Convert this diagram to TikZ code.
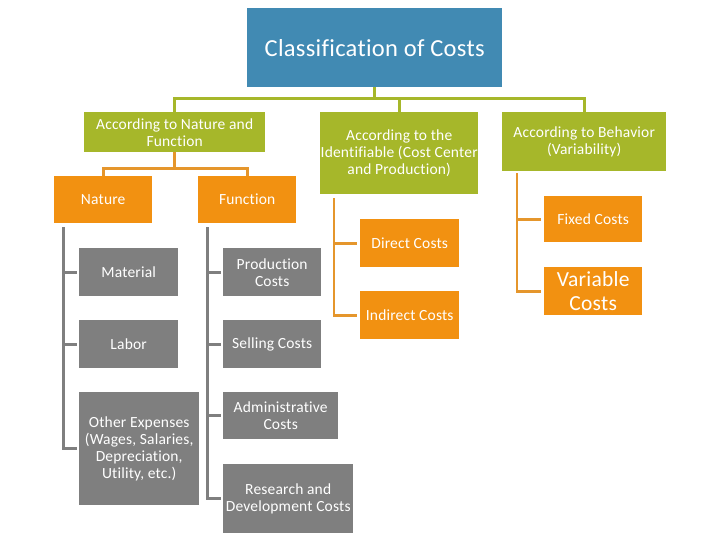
\documentclass[tikz,border=0pt]{standalone}
\usepackage{fontspec}
\setmainfont{Carlito}[Ligatures=NoCommon,LetterSpace=1.2]
\definecolor{tblue}{HTML}{418AB3}
\definecolor{tgreen}{HTML}{A6B72A}
\definecolor{torange}{HTML}{F29111}
\definecolor{tline}{HTML}{E5962C}
\definecolor{tgray}{HTML}{7F7F7F}
\tikzset{
  box/.style={anchor=north west, inner sep=0pt, align=center, text=white,
    font=\fontsize{15.5bp}{17bp}\selectfont},
  bluebox/.style={box, fill=tblue, font=\fontsize{24.5bp}{28bp}\selectfont},
  greenbox/.style={box, fill=tgreen},
  orangebox/.style={box, fill=torange},
  graybox/.style={box, fill=tgray},
  gline/.style={draw=tgreen, line width=3bp},
  oline/.style={draw=tline, line width=2.8bp},
  kline/.style={draw=tgray, line width=3bp},
}
\begin{document}
\begin{tikzpicture}[x=1bp,y=-1bp]
\useasboundingbox (0,0) rectangle (720,540);
% top
\node[bluebox, minimum width=255bp, minimum height=79bp] (title) at (247,8) {Classification of Costs};
\node[greenbox, minimum width=181bp, minimum height=40bp] (nf) at (84,112) {According to Nature and\\Function};
\node[greenbox, minimum width=158bp, minimum height=82bp] (ident) at (320,112) {According to the\\Identifiable (Cost Center\\and Production)};
\node[greenbox, minimum width=164bp, minimum height=59bp] (behav) at (502,112) {According to Behavior\\(Variability)};
% orange
\node[orangebox, minimum width=98bp, minimum height=47bp] (nature) at (54,176) {Nature};
\node[orangebox, minimum width=98bp, minimum height=47bp] (function) at (198,176) {Function};
\node[orangebox, minimum width=99bp, minimum height=48bp] (direct) at (360,219) {Direct Costs};
\node[orangebox, minimum width=99bp, minimum height=48bp] (indirect) at (360,291) {Indirect Costs};
\node[orangebox, minimum width=98bp, minimum height=46bp] (fixed) at (544,196) {Fixed Costs};
\node[orangebox, minimum width=98bp, minimum height=48bp, font=\fontsize{21.5bp}{23.5bp}\selectfont] (variable) at (544,267) {Variable\\Costs};
% gray
\node[graybox, minimum width=99bp, minimum height=48bp] (material) at (79,248) {Material};
\node[graybox, minimum width=99bp, minimum height=48bp] (labor) at (79,320) {Labor};
\node[graybox, minimum width=120bp, minimum height=113bp] (other) at (79,392) {Other Expenses\\(Wages, Salaries,\\Depreciation,\\Utility, etc.)};
\node[graybox, minimum width=98bp, minimum height=48bp] (prod) at (223,248) {Production\\Costs};
\node[graybox, minimum width=98bp, minimum height=48bp] (sell) at (223,320) {Selling Costs};
\node[graybox, minimum width=115bp, minimum height=47bp] (admin) at (223,392) {Administrative\\Costs};
\node[graybox, minimum width=130bp, minimum height=69bp] (rd) at (223,464) {Research and\\Development Costs};
% green connectors
\draw[gline] (title.south) -- ++(0,11) -| (nf.north);
\draw[gline] (title.south) -- ++(0,11) -| (ident.north);
\draw[gline] (title.south) -- ++(0,11) -| (behav.north);
% orange connectors
\draw[oline] (nf.south) -- ++(0,16) -| (nature.north);
\draw[oline] (nf.south) -- ++(0,16) -| (function.north);
\draw[oline, shorten <=4bp, shorten >=3bp] ([xshift=14bp]ident.south west) |- (direct.west);
\draw[oline, shorten <=4bp, shorten >=3bp] ([xshift=14bp]ident.south west) |- (indirect.west);
\draw[oline, shorten <=2bp, shorten >=3bp] ([xshift=15bp]behav.south west) |- (fixed.west);
\draw[oline, shorten <=2bp, shorten >=3bp] ([xshift=15bp]behav.south west) |- (variable.west);
% gray connectors
\draw[kline, shorten <=4bp, shorten >=2bp] ([xshift=9bp]nature.south west) |- (material.west);
\draw[kline, shorten <=4bp, shorten >=2bp] ([xshift=9bp]nature.south west) |- (labor.west);
\draw[kline, shorten <=4bp, shorten >=2bp] ([xshift=9bp]nature.south west) |- (other.west);
\draw[kline, shorten <=4bp, shorten >=2bp] ([xshift=9bp]function.south west) |- (prod.west);
\draw[kline, shorten <=4bp, shorten >=2bp] ([xshift=9bp]function.south west) |- (sell.west);
\draw[kline, shorten <=4bp, shorten >=2bp] ([xshift=9bp]function.south west) |- (admin.west);
\draw[kline, shorten <=4bp, shorten >=2bp] ([xshift=9bp]function.south west) |- (rd.west);
\end{tikzpicture}
\end{document}
